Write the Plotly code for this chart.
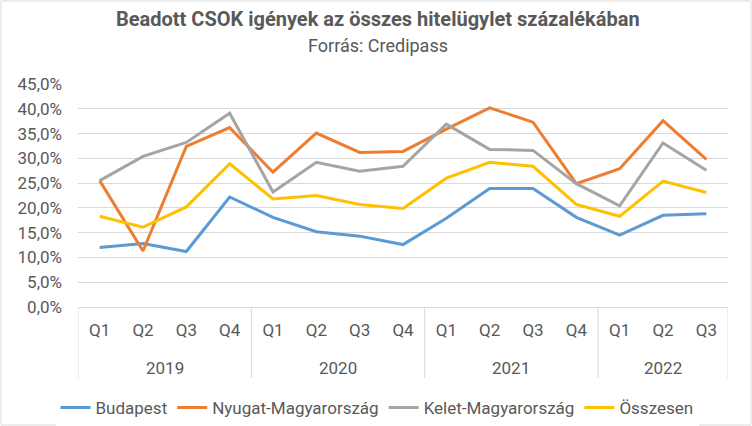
import plotly.graph_objects as go

# quarters and years for the x axis
years = ['2019'] * 4 + ['2020'] * 4 + ['2021'] * 4 + ['2022'] * 3
quarters = ['Q1', 'Q2', 'Q3', 'Q4'] * 3 + ['Q1', 'Q2', 'Q3']
periods = [f'{y} {q}' for y, q in zip(years, quarters)]

# values in percent
budapest = [12.0, 12.8, 11.2, 22.2, 18.1, 15.2, 14.3, 12.6, 17.9, 23.9, 23.9, 18.1, 14.5, 18.5, 18.8]
nyugat = [25.5, 11.3, 32.4, 36.2, 27.2, 35.1, 31.2, 31.4, 35.9, 40.2, 37.3, 24.9, 27.9, 37.6, 29.8]
kelet = [25.5, 30.4, 33.2, 39.1, 23.2, 29.2, 27.4, 28.4, 36.9, 31.8, 31.6, 24.9, 20.4, 33.1, 27.6]
osszesen = [18.3, 16.1, 20.2, 28.9, 21.8, 22.5, 20.7, 19.9, 26.0, 29.2, 28.4, 20.7, 18.3, 25.4, 23.1]

series = [
    ('Budapest', budapest, '#5b9bd5'),
    ('Nyugat-Magyarország', nyugat, '#ed7d31'),
    ('Kelet-Magyarország', kelet, '#a5a5a5'),
    ('Összesen', osszesen, '#ffc000'),
]

font = 'Roboto, sans-serif'
grey_text = '#595959'
grid = '#d9d9d9'

fig = go.Figure()
for name, vals, color in series:
    fig.add_trace(go.Scatter(
        x=periods,
        y=[v / 100 for v in vals],
        name=name,
        mode='lines',
        line=dict(color=color, width=3),
    ))

fig.update_layout(
    width=752, height=426,
    margin=dict(l=78, r=24, t=84, b=119),
    paper_bgcolor='white',
    plot_bgcolor='white',
    separators=', ',
    font=dict(family=font, size=17, color=grey_text),
    legend=dict(
        orientation='h', x=377 / 752, xref='container', xanchor='center',
        y=(426 - 408) / 426, yref='container', yanchor='middle',
        font=dict(family=font, size=17, color=grey_text),
        itemwidth=30, tracegroupgap=0,
    ),
    showlegend=True,
)

# title and source line
fig.add_annotation(
    text='<b>Beadott CSOK igények az összes hitelügylet százalékában</b>',
    xref='paper', yref='paper', x=0.461, y=1 + (84 - 19) / 223,
    xanchor='center', yanchor='middle', showarrow=False,
    font=dict(family=font, size=20, color=grey_text),
)
fig.add_annotation(
    text='Forrás: Credipass',
    xref='paper', yref='paper', x=0.461, y=1 + (84 - 46) / 223,
    xanchor='center', yanchor='middle', showarrow=False,
    font=dict(family=font, size=18, color=grey_text),
)

fig.update_yaxes(
    range=[0, 0.45], dtick=0.05, tickformat='.1%', automargin=False,
    showgrid=True, gridcolor=grid, gridwidth=1,
    zeroline=False, showline=False, ticks='', ticklabelstandoff=15,
    tickfont=dict(size=17, color=grey_text),
)
fig.update_xaxes(
    type='category', range=[-0.5, len(periods) - 0.5], automargin=False,
    tickvals=periods, ticktext=quarters,
    showgrid=False, showline=True, linecolor=grid, linewidth=1,
    ticks='', ticklabelstandoff=8,
    tickfont=dict(size=17, color=grey_text),
)

# year labels and dividers below the axis
year_names = ['2019', '2020', '2021', '2022']
start = 0
for yr in year_names:
    n = years.count(yr)
    fig.add_annotation(
        text=yr, xref='x', yref='paper', x=start + (n - 1) / 2, y=(307 - 368) / 223,
        xanchor='center', yanchor='middle', showarrow=False,
        font=dict(family=font, size=17, color=grey_text),
    )
    fig.add_shape(type='line', xref='x', yref='paper', x0=start - 0.5, x1=start - 0.5,
                  y0=0, y1=(307 - 378) / 223, line=dict(color=grid, width=1))
    start += n
fig.add_shape(type='line', xref='x', yref='paper', x0=start - 0.5, x1=start - 0.5,
              y0=0, y1=(307 - 378) / 223, line=dict(color=grid, width=1))

# light frame around the whole chart
fig.add_shape(
    type='rect', xref='paper', yref='paper',
    x0=-77 / 650, x1=1 + 23 / 650, y0=-118 / 223, y1=1 + 83 / 223,
    line=dict(color=grid, width=1), fillcolor='rgba(0,0,0,0)',
)

# page body has a default margin; drop it so the chart sits at the window corner
fig.write_html('out.html', config={'displayModeBar': False},
               post_script="document.body.style.margin='0';")
